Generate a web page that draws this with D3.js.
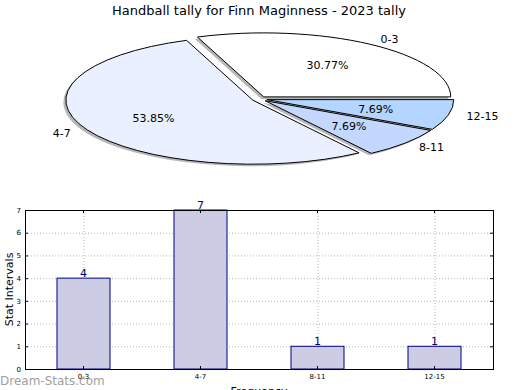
<!DOCTYPE html>
<html>
<head>
<meta charset="utf-8">
<script src="https://cdn.jsdelivr.net/npm/d3@7"></script>
<style>
  body { margin: 0; background: #fff; }
  svg { font-family: "DejaVu Sans", sans-serif; }
</style>
</head>
<body>
<svg id="chart" width="520" height="390"></svg>
<script>
// Data
var categories = ["0-3", "4-7", "8-11", "12-15"];
var counts = [4, 7, 1, 1];
var sliceColors = ["#ffffff", "#eaf0ff", "#c4d8ff", "#b3d5ff"];
var yTicks = [0, 1, 2, 3, 4, 5, 6, 7];

var svg = d3.select("#chart");

// Title
svg.append("text")
    .attr("x", 259)
    .attr("y", 15)
    .attr("text-anchor", "middle")
    .style("font-size", "13px")
    .text("Handball tally for Finn Maginness - 2023 tally");

// ---- Pie (squashed into an ellipse) ----
var cx = 259.5, cy = 99, rx = 187, ry = 64;
var k = ry / rx;
var explode = 0.04 * rx;
var total = d3.sum(counts);

var pie = d3.pie()
    .sort(null)
    .startAngle(Math.PI / 2)
    .endAngle(Math.PI / 2 - 2 * Math.PI)
    .value(function(d) { return d; });

var arc = d3.arc().innerRadius(0).outerRadius(rx);
var slices = pie(counts);

var pieG = svg.append("g");

function offsetOf(d, f) {
    var mid = (d.startAngle + d.endAngle) / 2;
    return [Math.sin(mid) * f, -Math.cos(mid) * f];
}

// shadows first
slices.forEach(function(d, i) {
    var o = offsetOf(d, explode);
    pieG.append("path")
        .attr("d", arc(d))
        .attr("transform", "translate(" + (cx - 2.5) + "," + (cy + 2) + ") scale(1," + k + ") translate(" + o[0] + "," + o[1] + ")")
        .attr("fill", "#999999")
        .attr("opacity", 0.7);
});

slices.forEach(function(d, i) {
    var o = offsetOf(d, explode);
    pieG.append("path")
        .attr("d", arc(d))
        .attr("transform", "translate(" + cx + "," + cy + ") scale(1," + k + ") translate(" + o[0] + "," + o[1] + ")")
        .attr("fill", sliceColors[i])
        .attr("stroke", "#000")
        .attr("stroke-width", 1)
        .attr("vector-effect", "non-scaling-stroke");
});

// labels and percentages
slices.forEach(function(d, i) {
    var mid = (d.startAngle + d.endAngle) / 2;
    var sx = Math.sin(mid), sy = -Math.cos(mid);
    var lx = cx + sx * rx * 1.14, ly = cy + sy * ry * 1.14;
    pieG.append("text")
        .attr("x", lx)
        .attr("y", ly)
        .attr("dy", "0.35em")
        .attr("text-anchor", sx > 0 ? "start" : "end")
        .style("font-size", "11px")
        .text(categories[i]);
    var px = cx + sx * rx * 0.64, py = cy + sy * ry * 0.64;
    pieG.append("text")
        .attr("x", px)
        .attr("y", py)
        .attr("dy", "0.35em")
        .attr("text-anchor", "middle")
        .style("font-size", "11px")
        .text((counts[i] / total * 100).toFixed(2) + "%");
});

// ---- Bar chart ----
var plotL = 25, plotR = 493, plotT = 210, plotB = 369;
var x = d3.scaleBand().domain(categories).range([plotL, plotR]).padding(0);
var y = d3.scaleLinear().domain([0, 7]).range([plotB, plotT]);
var barW = x.bandwidth() * 0.453;

var grid = svg.append("g")
    .attr("stroke", "#b8b8b8")
    .attr("stroke-dasharray", "1,2");
grid.selectAll(".hg")
    .data(yTicks.slice(1, -1))
    .enter().append("line")
    .attr("x1", plotL).attr("x2", plotR)
    .attr("y1", function(d) { return y(d) + 0.5; })
    .attr("y2", function(d) { return y(d) + 0.5; });

svg.selectAll(".bar")
    .data(counts)
    .enter().append("rect")
    .attr("x", function(d, i) { return x(categories[i]) + (x.bandwidth() - barW) / 2; })
    .attr("y", function(d) { return y(d); })
    .attr("width", barW)
    .attr("height", function(d) { return y(0) - y(d); })
    .attr("fill", "#ccccE4")
    .attr("stroke", "#000080")
    .attr("stroke-width", 1);

// vertical grid over bars
grid.selectAll(".vg")
    .data(categories)
    .enter().append("line")
    .attr("x1", function(d) { return x(d) + x.bandwidth() / 2 + 0.5; })
    .attr("x2", function(d) { return x(d) + x.bandwidth() / 2 + 0.5; })
    .attr("y1", plotT).attr("y2", plotB);

svg.selectAll(".val")
    .data(counts)
    .enter().append("text")
    .attr("x", function(d, i) { return x(categories[i]) + x.bandwidth() / 2; })
    .attr("y", function(d) { return y(d) - 1; })
    .attr("text-anchor", "middle")
    .attr("fill", "#000080")
    .style("font-size", "11px")
    .text(function(d) { return d; });

// Axes
var yAxis = d3.axisLeft(y).tickValues(yTicks).tickFormat(d3.format("d"))
    .tickSizeInner(-3).tickSizeOuter(0).tickPadding(4);
svg.append("g")
    .attr("transform", "translate(" + plotL + ",0)")
    .call(yAxis)
    .call(function(g) {
        g.select(".domain").remove();
        g.selectAll("text").style("font-size", "7px").style("font-family", "DejaVu Sans");
    });

var yAxisR = d3.axisRight(y).tickValues(yTicks).tickSizeInner(-3).tickSizeOuter(0).tickFormat("");
svg.append("g")
    .attr("transform", "translate(" + plotR + ",0)")
    .call(yAxisR)
    .call(function(g) { g.select(".domain").remove(); });

var xAxis = d3.axisBottom(x).tickSizeInner(-3).tickSizeOuter(0).tickPadding(5);
svg.append("g")
    .attr("transform", "translate(0," + plotB + ")")
    .call(xAxis)
    .call(function(g) {
        g.select(".domain").remove();
        g.selectAll("text").style("font-size", "7px").style("font-family", "DejaVu Sans");
    });

svg.append("g")
    .attr("transform", "translate(0," + plotT + ")")
    .call(d3.axisTop(x).tickSizeInner(-3).tickSizeOuter(0).tickFormat(""))
    .call(function(g) { g.select(".domain").remove(); });

svg.append("rect")
    .attr("x", plotL + 0.5).attr("y", plotT + 0.5)
    .attr("width", plotR - plotL).attr("height", plotB - plotT)
    .attr("fill", "none")
    .attr("stroke", "#000")
    .attr("stroke-width", 1);

// Axis labels
svg.append("text")
    .attr("x", 259)
    .attr("y", 395)
    .attr("text-anchor", "middle")
    .style("font-size", "11px")
    .text("Frequency");

svg.append("text")
    .attr("transform", "translate(13," + ((plotT + plotB) / 2) + ") rotate(-90)")
    .attr("text-anchor", "middle")
    .style("font-size", "11px")
    .text("Stat Intervals");

// Watermark
svg.append("text")
    .attr("x", 0)
    .attr("y", 385)
    .attr("fill", "#909090")
    .attr("opacity", 0.85)
    .style("font-size", "12px")
    .text("Dream-Stats.com");
</script>
</body>
</html>
